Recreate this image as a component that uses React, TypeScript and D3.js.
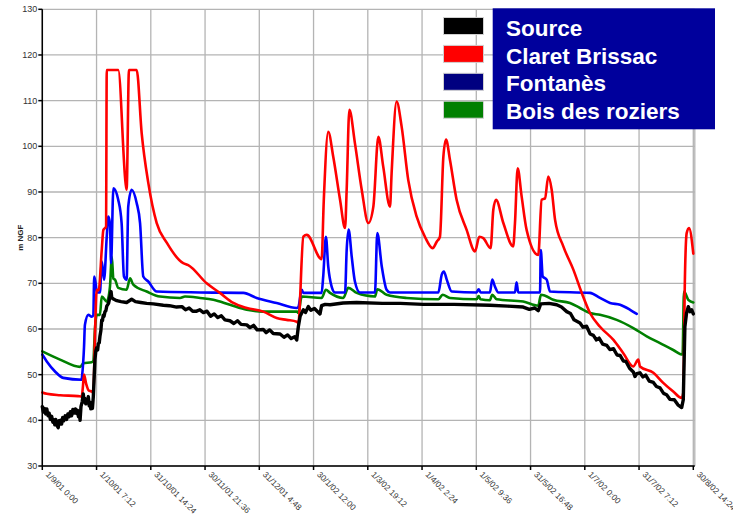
import React from "react";
import * as d3 from "d3";

// days since 1/9/01 0:00, level in m NGF
const source: [number, number][] = [
  [0, 43], [0.6, 41.8], [1.2, 42.6], [1.9, 41.4], [2.5, 42.5], [3.2, 41.0], [3.8, 41.6], [4.5, 40.2],
  [5.2, 40.9], [5.9, 39.6], [6.5, 40.1], [7.0, 39.0], [7.5, 40.2], [8.2, 38.9], [8.9, 38.4],
  [9.4, 39.9], [9.8, 39.2], [10.3, 40.0], [10.8, 39.2], [11.4, 40.6], [12.0, 39.9], [12.8, 41.0],
  [13.6, 40.2], [14.3, 41.4], [15.0, 40.8], [15.7, 41.9], [16.4, 41.0], [17.1, 42.4], [17.8, 41.6],
  [18.5, 42.5], [19.2, 41.5], [19.7, 42.2], [20.2, 40.8], [20.7, 41.6], [21.1, 40.0], [21.6, 43],
  [22.3, 44.1], [22.9, 45.8], [23.4, 44.0], [23.8, 44.8], [24.3, 43.6], [24.8, 44.6], [25.3, 43.9],
  [25.7, 45.2], [26.2, 43.2], [26.6, 44.0], [27.1, 42.5], [27.6, 43.3], [28.0, 42.6], [28.5, 45.2],
  [29.4, 53.3], [29.9, 55.2], [30.4, 55.9], [30.9, 55.4], [31.3, 56.8], [31.8, 57.0], [32.2, 58.4],
  [32.7, 59.6], [33.2, 62], [33.6, 61.8], [34.0, 63], [34.5, 62.8], [35.0, 63.8], [35.5, 64.0],
  [36.0, 65], [37.0, 65.6], [37.8, 67.1], [38.4, 68.2], [38.8, 66.8], [40.0, 66.5], [41.6, 66.2],
  [44.0, 66.0], [47.1, 65.8], [49.9, 66.5], [52.0, 66.0], [55.0, 65.8], [58.3, 65.6], [62.0, 65.5],
  [67.6, 65.2], [71.0, 65.1], [75.0, 64.8], [78.0, 64.9], [80.0, 64.2], [82.0, 64.6], [84.0, 63.9],
  [86.2, 63.9], [88.0, 64.2], [90.0, 63.6], [92.0, 63.9], [94.0, 62.8], [96.0, 63.3], [98.0, 62.5],
  [100.0, 62.9], [102.0, 62.0], [104.8, 61.8], [107.0, 61.2], [109.0, 61.8], [111.0, 61.0],
  [114.2, 60.9], [116.0, 60.3], [118.0, 60.8], [120.0, 59.8], [123.4, 59.9], [125.0, 59.2],
  [127.0, 59.8], [129.0, 59.0], [132.8, 58.9], [135.0, 58.2], [137.0, 58.7], [139.0, 57.9],
  [141.0, 58.3], [142.1, 57.6], [143.0, 60.5], [144.0, 62.8], [145.8, 64.2], [147.0, 63.6],
  [148.6, 64.9], [150.0, 64.1], [152.0, 64.5], [155.1, 63.3], [156.0, 65.1], [158.0, 65.4],
  [160.7, 65.3], [168.0, 65.7], [175.6, 65.8], [190.0, 65.6], [200.0, 65.6], [212.8, 65.4],
  [230.0, 65.4], [250.0, 65.2], [260.0, 65.0], [268.6, 64.8], [272.0, 64.3], [275.0, 64.6],
  [277.0, 64.0], [278.4, 65.5], [283.0, 65.6], [287.3, 65.3], [290.0, 64.8], [292.9, 63.8],
  [295.0, 63.4], [297.0, 62.0], [300.3, 61.3], [302.0, 60.4], [304.0, 60.6], [306.0, 58.9],
  [307.8, 58.6], [309.5, 57.6], [311.0, 58.0], [313.0, 56.7], [315.3, 56.4], [317.0, 55.5],
  [319.0, 55.7], [321.0, 54.3], [322.7, 54.2], [324.5, 53.0], [326.0, 52.9], [328.0, 51.4],
  [330.1, 50.6], [331.0, 49.6], [332.0, 50.2], [333.8, 50.4], [335.5, 49.5], [337.0, 49.9],
  [339.0, 48.6], [341.3, 48.3], [343.0, 47.4], [345.0, 47.1], [347.0, 45.9], [348.7, 45.6],
  [350.5, 44.6], [353.0, 44.5], [355.0, 43.4], [357.1, 42.8], [358.0, 44.5], [358.9, 60.5],
  [359.8, 63.4], [360.8, 64.9], [361.8, 63.8], [362.7, 64.2], [363.6, 63.3],
];

const claretBrissac: [number, number][] = [
  [0, 46.1], [2.5, 45.8], [10, 45.5], [20, 45.3], [22.0, 45.2], [22.6, 47], [23.3, 50], [24.5, 48],
  [26.0, 46.5], [27.8, 46.3], [28.5, 46], [29.5, 60], [30.4, 68.6], [31.5, 68.5], [33.2, 77.3],
  [34.1, 81.7], [35.6, 82.4], [36.0, 116.7], [42.4, 116.7], [46.5, 92], [47.1, 90.5], [48.4, 116.7],
  [52.7, 116.7], [55.5, 102.9], [59.2, 92], [63.9, 83.2], [69.5, 78.9], [78.7, 74.4], [81.5, 74],
  [91.8, 70], [99.2, 67.9], [106.7, 65.7], [114.2, 64.6], [123.4, 63.8], [130.9, 62.4], [136.5, 62],
  [142.1, 61.6], [143.0, 61.3], [145.8, 80.2], [147.7, 80.6], [156.0, 75.3], [157.2, 88],
  [159.7, 103.2], [162.5, 97.7], [166.3, 88.3], [169.1, 82.1], [170.0, 90.5], [171.5, 108],
  [174.6, 100.7], [178.4, 90.5], [182.1, 83.2], [184.9, 86.8], [187.7, 102.1], [190.4, 95.6],
  [194.2, 86.8], [195.1, 94.1], [197.9, 109.8], [200.7, 104.3], [204.4, 92.6], [209.1, 84.6],
  [213.7, 80.2], [218.0, 77.7], [220.3, 79.1], [222.1, 80.2], [224.0, 97.7], [225.5, 101.5],
  [227.7, 97], [231.4, 88.3], [237.0, 81.7], [241.7, 77], [244.1, 80.2], [246.3, 79.9], [250.4, 77.7],
  [251.9, 86.1], [253.4, 88.3], [257.5, 83.2], [263.0, 78.1], [264.0, 83.2], [265.5, 95.2],
  [267.7, 89.1], [270.5, 81.7], [277.0, 76.2], [278.9, 88.3], [280.8, 88.6], [282.6, 93.4],
  [284.5, 90.5], [286.4, 83.9], [291.0, 78.1], [296.6, 73], [301.3, 67.9], [305.9, 63.5],
  [311.5, 60.5], [319.0, 57.6], [324.5, 54.7], [330.1, 51.8], [332.9, 53.3], [333.8, 51.8],
  [341.3, 50.4], [346.8, 48.2], [352.4, 46.3], [357.1, 44.9], [358.0, 46], [358.9, 70.8],
  [359.9, 81], [361.2, 82.1], [363.6, 76.5],
];

const fontanes: [number, number][] = [
  [0, 54.4], [2.5, 52.9], [7.1, 50.7], [11.7, 49.3], [22.0, 48.9], [22.3, 50], [23.3, 56],
  [23.8, 60.9], [25.7, 63.1], [27.6, 62.7], [28.5, 63], [29.0, 71.5], [29.8, 70], [30.4, 68],
  [32.2, 68], [33.2, 74.8], [34.5, 70.8], [36.0, 80.2], [36.9, 84.6], [37.8, 83], [38.4, 74.4],
  [39.7, 90.8], [42.4, 88.3], [44.3, 83.2], [45.6, 71.5], [47.1, 70.8], [48.0, 86.8], [49.9, 90.5],
  [52.7, 87.6], [54.6, 83.2], [56.4, 71.5], [59.2, 70.4], [63.9, 68.2], [88.1, 68], [112.3, 67.9],
  [119.7, 66.8], [130.9, 65.7], [142.1, 64.6], [143.0, 64.8], [144.9, 68.6], [145.8, 67.9],
  [156.0, 67.9], [156.9, 71.5], [158.4, 80.2], [159.7, 73.7], [161.6, 69.3], [163.5, 68],
  [169.1, 68], [170.0, 77.3], [171.1, 81.8], [172.8, 75.9], [174.6, 70.4], [177.4, 68], [185.8, 68],
  [187.1, 81], [189.6, 73.7], [192.3, 68.6], [194.2, 68], [221.2, 68], [223.1, 71.9], [224.3, 72.6],
  [225.9, 70.8], [228.7, 68.2], [242.6, 68], [243.7, 68.7], [244.8, 68], [250.0, 68], [251.3, 70.8],
  [252.8, 69.3], [254.7, 68], [264.0, 68], [264.9, 70.2], [265.8, 68], [278.0, 68], [278.4, 77.3],
  [279.5, 71.5], [281.7, 70.8], [283.6, 68.2], [305.9, 67.9], [311.5, 66.8], [317.1, 65.7],
  [322.7, 65.3], [328.3, 64.2], [332.0, 63.3],
];

const boisDesRoziers: [number, number][] = [
  [0, 55.1], [9.9, 53.3], [21.1, 51.7], [22.9, 52.5], [27.6, 52.7], [28.5, 53], [29.4, 60],
  [30.4, 63.1], [32.2, 63.1], [33.2, 67.1], [36.0, 66], [37.8, 69.3], [38.8, 75.9], [39.7, 71],
  [40.6, 70.8], [42.4, 69], [47.1, 68.6], [49.0, 71.1], [50.8, 69.7], [58.3, 68.2], [65.7, 67.1],
  [76.9, 66.8], [79.7, 67.1], [88.1, 66.8], [95.5, 66.4], [104.8, 65.3], [114.2, 64.2],
  [123.4, 63.8], [142.1, 63.8], [143.0, 63.5], [144.9, 67.1], [156.0, 66.8], [158.4, 68.6],
  [160.7, 67.9], [168.1, 66.8], [170.9, 69], [175.6, 67.9], [185.8, 67.1], [187.1, 68.7],
  [192.3, 67.5], [203.5, 66.8], [221.2, 66.5], [223.6, 67.5], [227.7, 66.8], [242.6, 66.5],
  [243.7, 67.2], [244.8, 66.5], [250.0, 66.3], [251.3, 67.5], [253.8, 66.5], [268.6, 66],
  [277.0, 65.1], [278.5, 67.5], [280.8, 67.3], [285.4, 66.4], [294.7, 65.7], [300.3, 64.6],
  [305.9, 63.5], [311.5, 63.1], [320.8, 62], [330.1, 60.2], [337.6, 58.4], [345.0, 56.9],
  [352.4, 55.4], [357.6, 54.4], [358.4, 68.2], [360.8, 66.4], [363.6, 65.8],
];

const seriesNames = ["Source", "Claret Brissac", "Fontanès", "Bois des roziers"];
const lineColors = ["#000000", "#ff0000", "#0000ff", "#008000"];
const swatchColors = ["#000000", "#ff0000", "#000080", "#008000"];

const xTickLabels = [
  "1/9/01 0:00", "1/10/01 7:12", "31/10/01 14:24", "30/11/01 21:36", "31/12/01 4:48",
  "30/1/02 12:00", "1/3/02 19:12", "1/4/02 2:24", "1/5/02 9:36", "31/5/02 16:48",
  "1/7/02 0:00", "31/7/02 7:12", "30/8/02 14:24",
];
const xTickStep = 30.3; // 30 days 7h12
const yTicks = [30, 40, 50, 60, 70, 80, 90, 100, 110, 120, 130];

const W = 733;
const H = 517;
const plot = { left: 42.3, right: 693.3, top: 9.3, bottom: 466 };
const font = "'Liberation Sans', Arial, sans-serif";

export default function App() {
  const x = d3
    .scaleLinear()
    .domain([0, xTickStep * (xTickLabels.length - 1)])
    .range([plot.left, plot.right]);
  const y = d3.scaleLinear().domain([30, 130]).range([plot.bottom, plot.top]);

  const smooth = d3
    .line<[number, number]>()
    .x(d => x(d[0]))
    .y(d => y(d[1]))
    .curve(d3.curveMonotoneX);
  const jagged = d3
    .line<[number, number]>()
    .x(d => x(d[0]))
    .y(d => y(d[1]));

  const data = [source, claretBrissac, fontanes, boisDesRoziers];
  // drawing order: green under, then blue, red, black
  const order = [3, 2, 1, 0];

  return (
    <svg
      width={W}
      height={H}
      style={{ position: "absolute", left: 0, top: 0, background: "#fff" }}
      fontFamily={font}
    >
      {/* grid */}
      <g stroke="#b4b4b4" strokeWidth={1.3}>
        {yTicks.map(t => (
          <line key={"gy" + t} x1={plot.left} x2={plot.right + 1.5} y1={y(t)} y2={y(t)} />
        ))}
        {xTickLabels.map((l, i) => (
          <line key={"gx" + i} x1={x(i * xTickStep)} x2={x(i * xTickStep)} y1={plot.top} y2={plot.bottom} />
        ))}
        <line x1={plot.right + 1.5} x2={plot.right + 1.5} y1={plot.top} y2={plot.bottom} />
      </g>

      {/* series */}
      <g fill="none" strokeLinejoin="round" strokeLinecap="round">
        {order.map(i => (
          <path
            key={seriesNames[i]}
            d={(i === 0 ? jagged(data[i]) : smooth(data[i])) || ""}
            stroke={lineColors[i]}
            strokeWidth={i === 0 ? 3.4 : 2.6}
          />
        ))}
      </g>

      {/* axes */}
      <g stroke="#000" strokeWidth={1.5}>
        <line x1={plot.left} x2={plot.left} y1={plot.top} y2={plot.bottom} />
        <line x1={plot.left} x2={plot.right + 1.5} y1={plot.bottom} y2={plot.bottom} />
        {yTicks.map(t => (
          <line key={"ty" + t} x1={plot.left - 4} x2={plot.left} y1={y(t)} y2={y(t)} />
        ))}
        {xTickLabels.map((l, i) => (
          <line key={"tx" + i} x1={x(i * xTickStep)} x2={x(i * xTickStep)} y1={plot.bottom} y2={plot.bottom + 4} />
        ))}
      </g>

      <g fontSize={9} fill="#333" textAnchor="end">
        {yTicks.map(t => (
          <text key={"ly" + t} x={plot.left - 5} y={y(t)} dy="0.35em">
            {t}
          </text>
        ))}
      </g>
      <g fontSize={8.3} fill="#333">
        {xTickLabels.map((l, i) => (
          <text
            key={"lx" + i}
            transform={`translate(${x(i * xTickStep) + 3},${plot.bottom + 9}) rotate(45)`}
          >
            {l}
          </text>
        ))}
      </g>
      <text
        transform={`translate(23,${(plot.top + plot.bottom) / 2}) rotate(-90)`}
        textAnchor="middle"
        fontSize={8}
        fontWeight="bold"
        fill="#222"
      >
        m NGF
      </text>

      {/* legend */}
      <rect x={492.7} y={8.3} width={222.3} height={121} fill="#00009c" />
      {seriesNames.map((n, i) => (
        <g key={"lg" + n}>
          <rect
            x={443.5}
            y={17.5 + i * 27.9}
            width={40}
            height={17}
            fill={swatchColors[i]}
            stroke="#d0d0d0"
            strokeWidth={1}
          />
          <text x={506} y={36 + i * 27.6} fill="#fff" fontSize={22.5} fontWeight="bold">
            {n}
          </text>
        </g>
      ))}
    </svg>
  );
}
